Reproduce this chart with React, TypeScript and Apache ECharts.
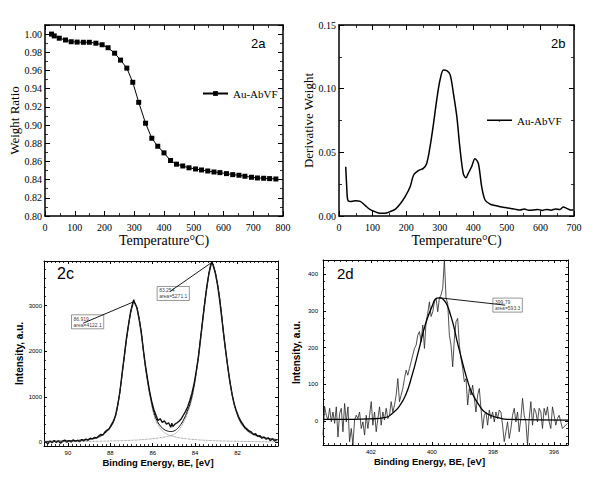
import React, { useEffect, useRef } from 'react';
import * as echarts from 'echarts';

const serif = "'Liberation Serif', 'Times New Roman', serif";
const sans = "'Liberation Sans', Arial, sans-serif";

// 2a - TGA weight ratio
const tgaTemp = [22, 31, 48, 69, 88, 108, 129, 149, 171, 192, 212, 234, 254, 275, 295, 315, 338, 359, 379, 400, 422, 442, 463, 484, 506, 526, 547, 568, 588, 610, 631, 652, 672, 694, 714, 735, 755, 776];
const tgaRatio = [1.0, 0.998, 0.9955, 0.9935, 0.9916, 0.9912, 0.991, 0.991, 0.99, 0.9883, 0.985, 0.979, 0.9714, 0.9626, 0.947, 0.925, 0.902, 0.8855, 0.8767, 0.8694, 0.861, 0.857, 0.855, 0.853, 0.8517, 0.8506, 0.8495, 0.8484, 0.8477, 0.8466, 0.8455, 0.8448, 0.8437, 0.8426, 0.8418, 0.8415, 0.8411, 0.8407];

// 2b - derivative weight
const dtgTemp = [20, 23, 26, 33, 48, 63, 77, 92, 107, 122, 137, 152, 167, 182, 197, 212, 222, 236, 251, 261, 271, 281, 291, 301, 311, 321, 331, 341, 351, 360, 370, 378, 385, 395, 405, 415, 425, 435, 450, 465, 480, 495, 509, 524, 539, 552, 565, 579, 592, 605, 618, 632, 645, 658, 668, 678, 688, 698];
const dtgWeight = [0.0387, 0.023, 0.0126, 0.0113, 0.012, 0.0115, 0.0086, 0.0052, 0.0034, 0.0021, 0.0021, 0.0034, 0.0052, 0.0094, 0.0152, 0.023, 0.032, 0.0356, 0.0374, 0.041, 0.054, 0.0715, 0.091, 0.107, 0.1147, 0.1141, 0.111, 0.096, 0.078, 0.054, 0.0335, 0.03, 0.0335, 0.0387, 0.045, 0.0414, 0.023, 0.0126, 0.0094, 0.0082, 0.0073, 0.0066, 0.006, 0.0054, 0.0047, 0.0055, 0.0045, 0.0047, 0.0052, 0.0044, 0.0052, 0.0046, 0.0055, 0.0052, 0.007, 0.006, 0.0048, 0.0047];

// 2c - Au 4f spectrum [BE, intensity]
const auRaw = [
  [91.05, 10], [90.95, -30], [90.85, 30], [90.75, -10], [90.65, 40], [90.55, 0], [90.45, 35], [90.35, -20], [90.25, 25], [90.15, 50],
  [90.05, 5], [89.95, 40], [89.85, 10], [89.75, 55], [89.65, 20], [89.55, 45], [89.45, 15], [89.35, 60], [89.25, 35], [89.15, 70],
  [89.05, 45], [88.95, 90], [88.85, 75], [88.75, 110], [88.65, 95], [88.55, 140], [88.45, 175], [88.35, 160], [88.25, 230], [88.15, 270],
  [88.05, 300], [87.95, 390], [87.85, 470], [87.75, 600], [87.65, 820], [87.55, 1100], [87.45, 1500], [87.35, 1860], [87.25, 2250], [87.15, 2560],
  [87.05, 2850], [86.95, 3020], [86.9, 3130], [86.85, 3060], [86.75, 2960], [86.65, 2720], [86.55, 2440], [86.45, 2060], [86.35, 1700], [86.25, 1400],
  [86.15, 1120], [86.05, 900], [85.95, 720], [85.85, 600], [85.75, 480], [85.65, 520], [85.55, 440], [85.45, 470], [85.35, 400], [85.25, 430],
  [85.15, 330], [85.1, 420], [85.05, 350], [84.95, 400], [84.85, 430], [84.75, 470], [84.65, 520], [84.55, 600], [84.45, 680], [84.35, 780],
  [84.25, 920], [84.15, 1080], [84.05, 1280], [83.95, 1550], [83.85, 1850], [83.75, 2250], [83.65, 2650], [83.55, 3050], [83.45, 3420], [83.35, 3700],
  [83.25, 3900], [83.2, 3960], [83.15, 3880], [83.05, 3720], [82.95, 3480], [82.85, 3150], [82.75, 2760], [82.65, 2360], [82.55, 1980], [82.45, 1620],
  [82.35, 1300], [82.25, 1040], [82.15, 830], [82.05, 680], [81.95, 560], [81.85, 470], [81.75, 400], [81.65, 330], [81.55, 290], [81.45, 250],
  [81.35, 230], [81.25, 170], [81.15, 190], [81.05, 130], [80.95, 150], [80.85, 90], [80.75, 120], [80.65, 70], [80.55, 100], [80.45, 40],
  [80.35, 80], [80.25, 30], [80.15, 60],
];
const auFit = [
  [91.13, 20], [90.5, 25], [90.0, 32], [89.5, 45], [89.0, 70], [88.6, 110], [88.3, 190], [88.0, 330], [87.8, 520], [87.66, 800],
  [87.51, 1250], [87.35, 1850], [87.19, 2420], [87.04, 2850], [86.95, 3050], [86.9, 3085], [86.82, 3040], [86.72, 2900], [86.56, 2480], [86.41, 1900],
  [86.25, 1380], [86.09, 960], [85.94, 650], [85.78, 460], [85.62, 350], [85.47, 285], [85.31, 250], [85.15, 238], [84.99, 252], [84.84, 300],
  [84.68, 390], [84.53, 510], [84.37, 680], [84.21, 900], [84.06, 1220], [83.9, 1700], [83.74, 2300], [83.59, 2900], [83.43, 3450], [83.3, 3830],
  [83.22, 3930], [83.14, 3890], [82.96, 3520], [82.8, 3010], [82.65, 2360], [82.49, 1770], [82.33, 1260], [82.18, 890], [82.02, 630], [81.86, 450],
  [81.7, 340], [81.55, 265], [81.39, 215], [81.08, 150], [80.76, 105], [80.45, 78], [80.09, 60],
];
const auComp1 = [
  [91.13, 15], [90.0, 25], [89.0, 60], [88.6, 100], [88.3, 180], [88.0, 320], [87.8, 510], [87.66, 790], [87.51, 1240], [87.35, 1840],
  [87.19, 2400], [87.04, 2830], [86.9, 3060], [86.72, 2890], [86.56, 2440], [86.41, 1850], [86.25, 1320], [86.09, 900], [85.94, 590], [85.78, 400],
  [85.62, 290], [85.47, 220], [85.31, 175], [85.15, 145], [84.84, 110], [84.53, 85], [84.0, 60], [83.5, 45], [83.0, 35], [82.0, 22],
  [81.0, 15], [80.09, 10],
];
const auComp2 = [
  [91.13, 8], [90.0, 12], [89.0, 20], [88.0, 30], [87.0, 45], [86.5, 60], [86.0, 80], [85.62, 105], [85.31, 130], [85.15, 150],
  [84.99, 178], [84.84, 230], [84.68, 330], [84.53, 450], [84.37, 620], [84.21, 850], [84.06, 1170], [83.9, 1650], [83.74, 2250], [83.59, 2860],
  [83.43, 3420], [83.3, 3810], [83.22, 3910], [83.14, 3870], [82.96, 3500], [82.8, 2990], [82.65, 2340], [82.49, 1750], [82.33, 1240], [82.18, 870],
  [82.02, 610], [81.86, 430], [81.7, 320], [81.55, 245], [81.39, 195], [81.08, 130], [80.76, 90], [80.45, 65], [80.09, 50],
];
const auPeakText = ['86.919\narea=4122.1', '83.254\narea=5271.1'];
const auPeakBox = [[89.83, 2798], [85.79, 3420]];
const auLeaders = [
  [[89.28, 2615], [86.92, 3080]],
  [[85.19, 3310], [83.22, 3947]],
];

// 2d - N 1s spectrum, sampled on a regular BE grid
const nStart = 403.57;
const nStep = 0.0545;
const nRawI = [
  -38, 39, 16, 3, 35, -2, 25, -6, 39, -43, 21, 35, -29, 48, -2, 39, -56, -20, -65, 3,
  16, 7, 25, -20, -2, -38, 16, -20, 16, 53, -11, 25, -29, 7, 39, -11, 25, 3, 35, 7,
  16, 53, 25, 44, 71, 116, 53, 71, 89, 116, 139, 125, 144, 162, 180, 198, 207, 234, 244, 216,
  262, 198, 271, 294, 325, 285, 298, 325, 335, 298, 335, 344, 362, 440, 335, 321,
  234, 207, 148, 225, 271, 280, 207, 171, 144, 107, 116, 44, 89, 71, 98, 62, 25, 71, 89, 35,
  -20, 16, 25, -11, 30, 7, 25, -2, 25, 7, 30, 25, -11, -56, -29, -2, -47, -20, 16, 35,
  -2, 25, -29, 7, 62, 16, -2, -65, 7, 53, -11, 35, 25, -2, 35, 25, -20, 35, 16, 39,
  -2, -20, 39, 16, -11, 7, 16, -2, -20, -15, -11, -6,
];
const nFit = [
  [403.57, 5], [402.59, 5], [402.05, 6], [401.51, 10], [401.3, 21], [401.08, 39], [400.86, 71], [400.65, 125], [400.43, 194], [400.22, 262],
  [400.0, 312], [399.84, 335], [399.73, 336], [399.61, 330], [399.5, 316], [399.39, 289], [399.28, 257], [399.17, 216], [399.06, 180], [398.95, 144],
  [398.84, 112], [398.73, 85], [398.62, 66], [398.46, 44], [398.3, 27], [398.08, 16], [397.8, 9], [397.53, 5], [395.54, 3],
];
const nPeakText = '399.79\narea=593.3';
const nPeakBox = [398.0, 335];
const nLeader = [[399.75, 336], [397.6, 316]];

function pair(base: any, mainPos: string, mirrorPos: string) {
  return [
    { ...base, position: mainPos },
    { ...base, position: mirrorPos, name: '', axisLabel: { show: false } },
  ];
}

function frame(gridIndex: number, lineWidth: number, tickLen: number, minorSplit: number, minorLen: number) {
  return {
    gridIndex,
    type: 'value',
    axisLine: { onZero: false, lineStyle: { color: '#000', width: lineWidth } },
    axisTick: { inside: true, length: tickLen, lineStyle: { color: '#000', width: 1 } },
    minorTick: { show: true, splitNumber: minorSplit, length: minorLen, lineStyle: { color: '#000', width: 0.8 } },
    splitLine: { show: false },
    nameLocation: 'middle',
  };
}

const tgaLabel = { fontFamily: serif, fontSize: 10, color: '#000' };
const tgaName = { fontFamily: serif, fontSize: 14, color: '#000' };
const xpsLabel = {
  fontFamily: sans, fontSize: 6, color: '#000', showMinLabel: false, showMaxLabel: false,
  formatter: (v: number) => String(v),
};
const xpsName = { fontFamily: sans, fontSize: 9.5, fontWeight: 'bold', color: '#000' };

const xAxes = [
  ...pair({ ...frame(0, 1.5, 5, 2, 3), min: 0, max: 800, interval: 100, axisLabel: { ...tgaLabel, margin: 6 }, name: 'Temperature°C)', nameGap: 17, nameTextStyle: tgaName }, 'bottom', 'top'),
  ...pair({ ...frame(1, 1.5, 5, 2, 3), min: 0, max: 700, interval: 100, axisLabel: { ...tgaLabel, margin: 6 }, name: 'Temperature°C)', nameGap: 17, nameTextStyle: tgaName }, 'bottom', 'top'),
  ...pair({ ...frame(2, 1, 3, 10, 2), min: 80.09, max: 91.13, splitNumber: 5, inverse: true, axisLabel: { ...xpsLabel, margin: 4 }, name: 'Binding Energy, BE, [eV]', nameGap: 11, nameTextStyle: { ...xpsName, padding: [0, 6, 0, 0] } }, 'bottom', 'top'),
  ...pair({ ...frame(3, 1, 3, 10, 2), min: 395.54, max: 403.57, splitNumber: 4, inverse: true, axisLabel: { ...xpsLabel, margin: 4 }, name: 'Binding Energy, BE, [eV]', nameGap: 11, nameTextStyle: { ...xpsName, padding: [0, 32, 0, 0] } }, 'bottom', 'top'),
];

const yAxes = [
  ...pair({ ...frame(0, 1.5, 5, 2, 3), min: 0.8, max: 1.01, interval: 0.02, axisLabel: { ...tgaLabel, margin: 3, showMaxLabel: false, formatter: (v: number) => v.toFixed(2) }, name: 'Weight Ratio', nameGap: 21, nameTextStyle: { ...tgaName, fontSize: 13 } }, 'left', 'right'),
  ...pair({ ...frame(1, 1.5, 5, 2, 3), min: 0, max: 0.15, interval: 0.05, axisLabel: { ...tgaLabel, margin: 3, formatter: (v: number) => v.toFixed(2) }, name: 'Derivative Weight', nameGap: 21, nameTextStyle: { ...tgaName, fontSize: 13 } }, 'left', 'right'),
  ...pair({ ...frame(2, 1, 3, 5, 2), min: -80, max: 3980, splitNumber: 4, axisLabel: { ...xpsLabel, margin: 2 }, name: 'Intensity, a.u.', nameGap: 10, nameTextStyle: { ...xpsName, fontSize: 10 } }, 'left', 'right'),
  ...pair({ ...frame(3, 1, 3, 5, 2), min: -65, max: 439, splitNumber: 5, axisLabel: { ...xpsLabel, margin: 5 }, name: 'Intensity, a.u.', nameGap: 22, nameTextStyle: { ...xpsName, fontSize: 10 } }, 'left', 'right'),
];

const boxLabel = {
  show: true,
  position: [0, 0],
  align: 'left',
  verticalAlign: 'top',
  fontFamily: sans,
  fontSize: 5,
  lineHeight: 6,
  color: '#000',
  borderColor: '#444',
  borderWidth: 0.7,
  padding: [1, 2],
};

const App: React.FC = () => {
  const chartRef = useRef<HTMLDivElement>(null);

  useEffect(() => {
    if (!chartRef.current) return;
    document.body.style.margin = '0';
    const chart = echarts.init(chartRef.current, null, { renderer: 'svg' });

    const option = {
      animation: false,
      backgroundColor: '#fff',
      grid: [
        { left: 45, top: 25, width: 238, height: 191 },
        { left: 339, top: 25, width: 235, height: 191 },
        { left: 44, top: 261, width: 234, height: 185 },
        { left: 323, top: 260, width: 245, height: 185 },
      ],
      xAxis: xAxes,
      yAxis: yAxes,
      legend: [
        {
          left: 202, top: 88, padding: 0, itemWidth: 25, itemHeight: 6, itemGap: 0, selectedMode: false,
          data: ['Au-AbVF'], textStyle: { fontFamily: serif, fontSize: 11, color: '#000' },
        },
        {
          left: 487, top: 115, padding: 0, itemWidth: 25, itemHeight: 6, itemGap: 0, selectedMode: false,
          icon: 'path://M0,2.2 L25,2.2 L25,3.8 L13.2,3.8 L13.2,4.4 L11.8,4.4 L11.8,3.8 L0,3.8 Z',
          data: ['DTG'], formatter: () => 'Au-AbVF', textStyle: { fontFamily: serif, fontSize: 11, color: '#000' },
        },
      ],
      graphic: [
        { type: 'text', left: 251, top: 37, style: { text: '2a', font: '13px Arial, sans-serif', fill: '#000' } },
        { type: 'text', left: 551, top: 37, style: { text: '2b', font: '13px Arial, sans-serif', fill: '#000' } },
        { type: 'text', left: 57, top: 265, style: { text: '2c', font: '16px Arial, sans-serif', fill: '#000' } },
        { type: 'text', left: 337, top: 266, style: { text: '2d', font: '15px Arial, sans-serif', fill: '#000' } },
      ],
      series: [
        {
          name: 'Au-AbVF', type: 'line', xAxisIndex: 0, yAxisIndex: 0,
          data: tgaTemp.map((t, i) => [t, tgaRatio[i]]),
          symbol: 'rect', symbolSize: 5, showAllSymbol: true,
          lineStyle: { color: '#000', width: 1 }, itemStyle: { color: '#000' },
        },
        {
          name: 'DTG', type: 'line', xAxisIndex: 2, yAxisIndex: 2,
          data: dtgTemp.map((t, i) => [t, dtgWeight[i]]),
          symbol: 'none', smooth: 0.3,
          lineStyle: { color: '#000', width: 1.5 }, itemStyle: { color: '#000' },
        },
        {
          type: 'line', xAxisIndex: 4, yAxisIndex: 4, data: auRaw, symbol: 'none',
          lineStyle: { color: '#111', width: 1.4 },
        },
        {
          type: 'line', xAxisIndex: 4, yAxisIndex: 4, data: auFit, symbol: 'none', smooth: true,
          lineStyle: { color: '#000', width: 1 },
        },
        {
          type: 'line', xAxisIndex: 4, yAxisIndex: 4, data: auComp1, symbol: 'none', smooth: true,
          lineStyle: { color: '#555', width: 0.7, type: 'dotted' },
        },
        {
          type: 'line', xAxisIndex: 4, yAxisIndex: 4, data: auComp2, symbol: 'none', smooth: true,
          lineStyle: { color: '#555', width: 0.7, type: 'dotted' },
        },
        ...auLeaders.map((seg) => ({
          type: 'line', xAxisIndex: 4, yAxisIndex: 4, data: seg, symbol: 'none',
          lineStyle: { color: '#000', width: 0.9 },
        })),
        {
          type: 'scatter', xAxisIndex: 4, yAxisIndex: 4, symbolSize: 0.1, silent: true,
          itemStyle: { color: 'transparent' },
          data: auPeakBox.map((p, i) => ({ value: p, label: { formatter: auPeakText[i] } })),
          label: boxLabel,
        },
        {
          type: 'line', xAxisIndex: 6, yAxisIndex: 6,
          data: nRawI.map((v, i) => [nStart - i * nStep, v]), symbol: 'none',
          lineStyle: { color: '#222', width: 0.8 },
        },
        {
          type: 'line', xAxisIndex: 6, yAxisIndex: 6, data: nFit, symbol: 'none', smooth: true,
          lineStyle: { color: '#000', width: 1.3 },
        },
        {
          type: 'line', xAxisIndex: 6, yAxisIndex: 6, data: nLeader, symbol: 'none',
          lineStyle: { color: '#000', width: 0.9 },
        },
        {
          type: 'scatter', xAxisIndex: 6, yAxisIndex: 6, symbolSize: 0.1, silent: true,
          itemStyle: { color: 'transparent' },
          data: [{ value: nPeakBox, label: { formatter: nPeakText } }],
          label: boxLabel,
        },
      ],
    };

    chart.setOption(option);
    return () => chart.dispose();
  }, []);

  return <div ref={chartRef} style={{ width: '600px', height: '498px' }} />;
};

export default App;
